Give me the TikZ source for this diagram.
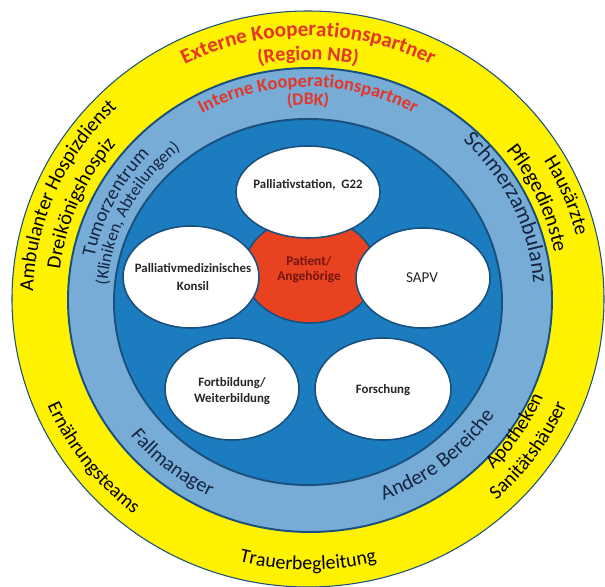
\documentclass[tikz,border=0pt]{standalone}
\usepackage{fontspec}
\setmainfont{Carlito}
\usetikzlibrary{decorations.text}

\definecolor{ringYellow}{RGB}{255,242,0}
\definecolor{ringLight}{RGB}{118,172,213}
\definecolor{ringDark}{RGB}{27,125,192}
\definecolor{ringEdge}{RGB}{25,80,125}
\definecolor{coreRed}{RGB}{233,66,32}
\definecolor{titleRed}{RGB}{228,54,42}
\definecolor{navyText}{RGB}{22,36,66}
\definecolor{patientText}{RGB}{115,22,16}

\begin{document}
\begin{tikzpicture}[
        x=0.02cm, y=0.02cm,
        ring/.style={draw=ringEdge, line width=1.1pt},
        unit/.style={fill=white, draw=ringEdge, line width=0.9pt},
        unitlabel/.style={font=\fontsize{7.3}{10.2}\selectfont\bfseries, align=center, text=black!85},
        arctext/.style={decorate, decoration={text along path, text align=center, #1}},
    ]
        \useasboundingbox (-308,-288) rectangle (297,299);

        % the three rings
        \filldraw[ring, line width=0.6pt, fill=ringYellow] (0,0) ellipse [x radius=296, y radius=288];
        \filldraw[ring, fill=ringLight] (2,-1) ellipse [x radius=242, y radius=232];
        \filldraw[ring, fill=ringDark] (0,-3) ellipse [x radius=194, y radius=183];

        % outer ring, external partners
        \path[arctext={text color=titleRed, text={|\fontsize{12}{13}\selectfont\bfseries|Externe Kooperationspartner}}]
            (150:272 and 263) arc [start angle=150, end angle=30, x radius=272, y radius=263];
        \path[arctext={text color=titleRed, text={|\fontsize{11.5}{12}\selectfont\bfseries|(Region NB)}}]
            (125:248 and 239) arc [start angle=125, end angle=55, x radius=248, y radius=239];
        \path[arctext={text={|\fontsize{11.5}{12}\selectfont|Ambulanter Hospizdienst}}]
            (214:275 and 266) arc [start angle=214, end angle=99, x radius=275, y radius=266];
        \path[arctext={text={|\fontsize{11.5}{12}\selectfont|Dreikönigshospiz}}]
            (214:250 and 242) arc [start angle=214, end angle=100, x radius=250, y radius=242];
        \path[arctext={text={|\fontsize{11.5}{12}\selectfont|Hausärzte}}]
            (75:276 and 266) arc [start angle=75, end angle=-31, x radius=276, y radius=266];
        \path[arctext={text={|\fontsize{11.8}{12}\selectfont|Pflegedienste}}]
            (77:251 and 242) arc [start angle=77, end angle=-29, x radius=251, y radius=242];
        \path[arctext={text={|\fontsize{11.2}{12}\selectfont|Ernährungsteams}}]
            (171:283 and 273) arc [start angle=171, end angle=263, x radius=283, y radius=273];
        \path[arctext={text={|\fontsize{11.3}{12}\selectfont|Trauerbegleitung}}]
            (225:281 and 271) arc [start angle=225, end angle=315, x radius=281, y radius=271];
        \path[arctext={text={|\fontsize{11.3}{12}\selectfont|Apotheken}}]
            (281:256 and 247) arc [start angle=281, end angle=373, x radius=256, y radius=247];
        \path[arctext={text={|\fontsize{11.3}{12}\selectfont|Sanitätshäuser}}]
            (279:281 and 271) arc [start angle=279, end angle=371, x radius=281, y radius=271];

        % middle ring, internal partners
        \path[arctext={text color=titleRed, text={|\fontsize{10.5}{12}\selectfont\bfseries|Interne Kooperationspartner}}]
            (150:219 and 212) arc [start angle=150, end angle=30, x radius=219, y radius=212];
        \path[arctext={text color=titleRed, text={|\fontsize{10}{12}\selectfont\bfseries|(DBK)}}]
            (110:201 and 194) arc [start angle=110, end angle=70, x radius=201, y radius=194];
        \path[arctext={text color=navyText, text={|\fontsize{11}{12}\selectfont|Tumorzentrum}}]
            (206:218 and 210) arc [start angle=206, end angle=100, x radius=218, y radius=210];
        \path[arctext={text color=navyText, text={|\fontsize{9.8}{12}\selectfont|(Kliniken, Abteilungen)}}]
            (206:201 and 194) arc [start angle=206, end angle=100, x radius=201, y radius=194];
        \path[arctext={text color=navyText, text={|\fontsize{12.5}{13}\selectfont|Schmerzambulanz}}]
            (78:226 and 217) arc [start angle=78, end angle=-28, x radius=226, y radius=217];
        \path[arctext={text color=navyText, text={|\fontsize{11.5}{12}\selectfont|Fallmanager}}]
            (185:227 and 219) arc [start angle=185, end angle=277, x radius=227, y radius=219];
        \path[arctext={text color=navyText, text={|\fontsize{12}{13}\selectfont|Andere Bereiche}}]
            (263:222 and 214) arc [start angle=263, end angle=355, x radius=222, y radius=214];

        % patient in the middle, services around
        \filldraw[ring, line width=0.9pt, fill=coreRed] (2,29) ellipse [x radius=66, y radius=53];
        \node[font=\fontsize{7.6}{8.6}\selectfont\bfseries, align=center, text=patientText] (patient) at (1,30) {Patient/\\Angehörige};

        \filldraw[unit] (0,107) ellipse [x radius=72, y radius=46];
        \node[unitlabel] (station) at (0,114) {Palliativstation,\ \ G22};

        \filldraw[unit] (-117,22) ellipse [x radius=68, y radius=51];
        \node[unitlabel] (konsil) at (-115,22) {Palliativmedizinisches\\Konsil};

        \filldraw[unit] (115,21) ellipse [x radius=67, y radius=50];
        \node[font=\fontsize{8.6}{10}\selectfont, text=black!85] (sapv) at (114,21) {SAPV};

        \filldraw[unit] (-76,-90) ellipse [x radius=67, y radius=51];
        \node[unitlabel, font=\fontsize{7.3}{9}\selectfont\bfseries] (fortbildung) at (-76,-92) {Fortbildung/\\Weiterbildung};

        \filldraw[unit] (75,-90) ellipse [x radius=68, y radius=51];
        \node[unitlabel] (forschung) at (75,-91) {Forschung};
    \end{tikzpicture}
\end{document}
